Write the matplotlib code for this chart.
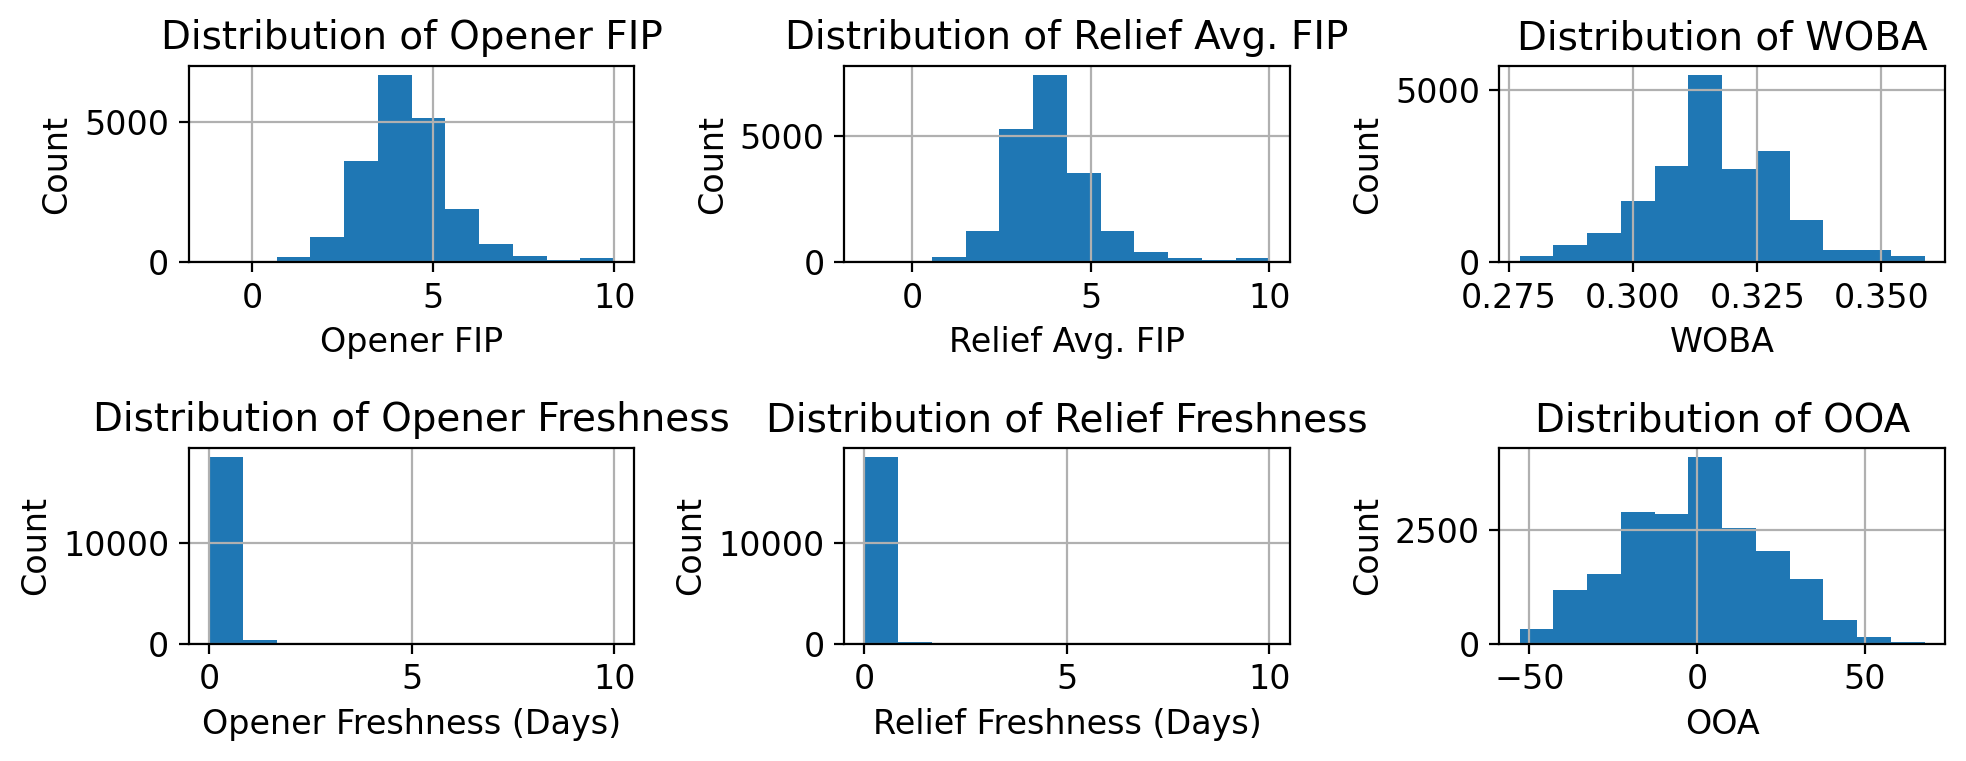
import numpy as np
import matplotlib
matplotlib.use("Agg")
import matplotlib.pyplot as plt

plt.rcParams["font.size"] = 12

# 12-bin histograms, counts
opener_fip_range = (-1.19, 10.0)
opener_fip_counts = [1, 3, 190, 905, 3619, 6655, 5119, 1905, 655, 226, 83, 155]

relief_fip_range = (-1.33, 10.0)
relief_fip_counts = [1, 2, 211, 1214, 5237, 7375, 3509, 1214, 409, 185, 92, 171]

woba_range = (0.2772, 0.3587)
woba_counts = [184, 504, 853, 1783, 2781, 5417, 2713, 3236, 1231, 359, 359, 184]

opener_fresh_range = (0.0, 10.0)
opener_fresh_counts = [18571, 432, 133, 15, 5, 3, 2, 1, 1, 1, 0, 133]

relief_fresh_range = (0.0, 10.0)
relief_fresh_counts = [18510, 232, 20, 10, 5, 3, 132, 2, 1, 1, 1, 132]

ooa_range = (-52.9, 67.9)
ooa_counts = [323, 1180, 1525, 2889, 2845, 4098, 2537, 2031, 1437, 521, 161, 51]

panels = [
    ("Opener FIP", "Opener FIP", opener_fip_range, opener_fip_counts),
    ("Relief Avg. FIP", "Relief Avg. FIP", relief_fip_range, relief_fip_counts),
    ("WOBA", "WOBA", woba_range, woba_counts),
    ("Opener Freshness", "Opener Freshness (Days)", opener_fresh_range, opener_fresh_counts),
    ("Relief Freshness", "Relief Freshness (Days)", relief_fresh_range, relief_fresh_counts),
    ("OOA", "OOA", ooa_range, ooa_counts),
]

fig, axes = plt.subplots(2, 3, figsize=(9.83, 3.805), dpi=200)
fig.subplots_adjust(left=0.0961, right=0.9893, top=0.9133, bottom=0.1537,
                    wspace=0.471, hspace=0.946)

for ax, (name, xlabel, (lo, hi), counts) in zip(axes.flat, panels):
    edges = np.linspace(lo, hi, len(counts) + 1)
    ax.hist(edges[:-1], bins=edges, weights=counts, color="#1f77b4")
    ax.grid(True)
    ax.set_title(f"Distribution of {name}", fontsize=14)
    ax.set_xlabel(xlabel)
    ax.set_ylabel("Count")

fig.savefig("out.png", dpi=200)
